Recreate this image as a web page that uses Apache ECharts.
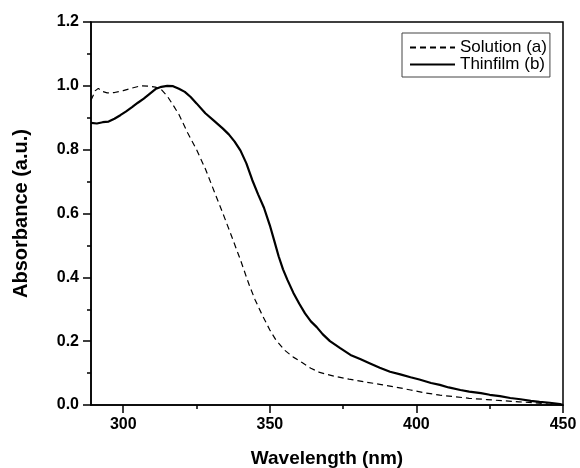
<!DOCTYPE html>
<html>
<head>
<meta charset="utf-8">
<script src="https://cdn.jsdelivr.net/npm/echarts@6/dist/echarts.min.js"></script>
<style>html,body{margin:0;padding:0;background:#fff}#c{width:580px;height:468px}</style>
</head>
<body>
<div id="c"></div>
<script>
var wlSolution = [289,290.5,291.5,293,294.5,297,300,303,306,309,311,313,315,317,319,322,325,328,331,334,336.5,340,343,345,347.5,350,352,355,358,361,364,367,372,377,382,388,393,398,403,408,413,418,424,430,435,440,445,450];
var absSolution = [0.955,0.985,0.992,0.982,0.978,0.979,0.985,0.993,1.0,0.999,0.996,0.988,0.968,0.94,0.91,0.852,0.80,0.74,0.67,0.60,0.54,0.454,0.375,0.329,0.28,0.235,0.205,0.172,0.15,0.133,0.115,0.102,0.09,0.081,0.073,0.064,0.056,0.047,0.038,0.031,0.026,0.021,0.017,0.013,0.010,0.007,0.003,0.0];
var wlFilm = [289,291,293,295,297,299,301,303,305,307,309,311,313,315,317,319,321,323,325,328,331,334,336,338,340,342,344,346,348,350,351.5,353,354.5,356,358,360,362,364,366,368,370.5,374,377.5,381,384,387.5,391,394.5,398,401,405,408,411,415,418,422,425,428.5,432,435.5,439,442,445.5,449,450];
var absFilm = [0.884,0.882,0.886,0.888,0.897,0.908,0.92,0.933,0.947,0.96,0.975,0.99,0.997,1.0,0.999,0.991,0.981,0.965,0.945,0.914,0.89,0.866,0.848,0.825,0.797,0.757,0.705,0.66,0.618,0.563,0.515,0.466,0.425,0.392,0.352,0.318,0.287,0.262,0.244,0.222,0.2,0.178,0.157,0.143,0.131,0.117,0.104,0.096,0.087,0.080,0.069,0.063,0.055,0.047,0.042,0.037,0.032,0.028,0.022,0.018,0.013,0.010,0.007,0.003,0.0];
var xMajorTicks = [300,350,400,450];
var xMinorTicks = [325,375,425];
var seriesNames = ['Solution (a)','Thinfilm (b)'];
var xTitle = 'Wavelength (nm)';
var yTitle = 'Absorbance (a.u.)';

function pairs(xs, ys){ return xs.map(function(x,i){ return [x, ys[i]]; }); }

var FONT = 'Liberation Sans, Arial, sans-serif';
var chart = echarts.init(document.getElementById('c'), null, {renderer:'canvas'});
chart.setOption({
  animation: false,
  backgroundColor: '#fff',
  grid: {left: 91, right: 17, top: 22, bottom: 63, show: true, borderColor: '#000', borderWidth: 1.5,
    backgroundColor: 'transparent', outerBoundsMode: 'none', containLabel: false},
  legend: {
    orient: 'vertical', left: 402, top: 33,
    padding: [6,3,4,7], itemGap: 0, itemWidth: 45, itemHeight: 17, itemTextGap: 2,
    borderColor: '#444', borderWidth: 1,
    itemStyle: {color: 'rgba(0,0,0,0)', borderWidth: 0, opacity: 0},
    textStyle: {fontFamily: FONT, fontSize: 17, color: '#000', lineHeight: 17},
    data: seriesNames
  },
  xAxis: [{
    type: 'value', min: 289, max: 450, position: 'bottom',
    name: xTitle, nameLocation: 'middle', nameGap: 44,
    nameTextStyle: {fontFamily: FONT, fontSize: 19, fontWeight: 'bold', color: '#000'},
    axisLine: {show: true, lineStyle: {color: '#000', width: 1.5}},
    axisTick: {show: true, length: 8, customValues: xMajorTicks, lineStyle: {color: '#000', width: 1.5}},
    axisLabel: {customValues: xMajorTicks, margin: 12, fontFamily: FONT, fontSize: 16, fontWeight: 'bold', color: '#000'},
    splitLine: {show: false}
  }, {
    type: 'value', min: 289, max: 450, position: 'bottom',
    axisLine: {show: false},
    axisTick: {show: true, length: 4, customValues: xMinorTicks, lineStyle: {color: '#000', width: 1.5}},
    axisLabel: {show: false},
    splitLine: {show: false}
  }],
  yAxis: {
    type: 'value', min: 0, max: 1.2, interval: 0.2,
    name: yTitle, nameLocation: 'middle', nameGap: 60,
    nameTextStyle: {fontFamily: FONT, fontSize: 20, fontWeight: 'bold', color: '#000'},
    axisLine: {show: true, lineStyle: {color: '#000', width: 1.5}},
    axisTick: {show: true, length: 8, lineStyle: {color: '#000', width: 1.5}},
    minorTick: {show: true, splitNumber: 2, length: 4, lineStyle: {color: '#000', width: 1.5}},
    axisLabel: {margin: 12, fontFamily: FONT, fontSize: 16, fontWeight: 'bold', color: '#000',
      formatter: function(v){ return v.toFixed(1); }},
    splitLine: {show: false}
  },
  series: [{
    name: seriesNames[0], type: 'line', xAxisIndex: 0, showSymbol: false, symbol: 'none',
    data: pairs(wlSolution, absSolution),
    lineStyle: {color: '#000', width: 1.2, type: [6,4]},
    itemStyle: {color: '#000'}
  }, {
    name: seriesNames[1], type: 'line', xAxisIndex: 0, showSymbol: false, symbol: 'none',
    data: pairs(wlFilm, absFilm),
    lineStyle: {color: '#000', width: 2.2},
    itemStyle: {color: '#000'}
  }]
});
</script>
</body>
</html>
